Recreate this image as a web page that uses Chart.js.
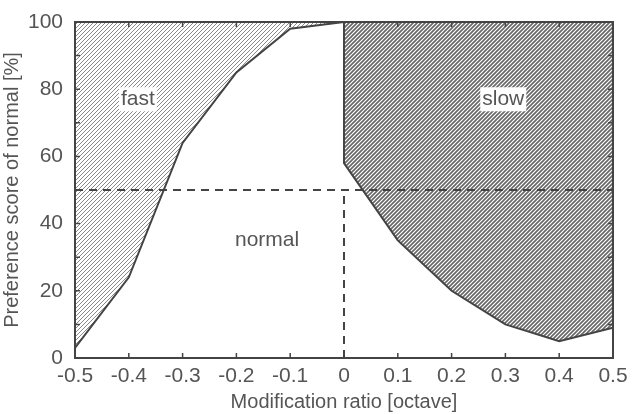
<!DOCTYPE html>
<html>
<head>
<meta charset="utf-8">
<script src="https://cdn.jsdelivr.net/npm/chart.js@4"></script>
<style>
  html, body { margin: 0; padding: 0; background: #fff; }
  #wrap { width: 632px; height: 414px; }
</style>
</head>
<body>
<div id="wrap"><canvas id="chart"></canvas></div>
<script>
// values
const fastX = [-0.5, -0.4, -0.3, -0.2, -0.1, 0];
const fastY = [3, 24, 64, 85, 98, 100];
const slowX = [0, 0, 0.1, 0.2, 0.3, 0.4, 0.5];
const slowY = [100, 58, 35, 20, 10, 5, 9];
const threshold = 50;
const regionLabels = ['fast', 'slow', 'normal'];
const labelX = [-0.383, 0.296, -0.143];
const labelY = [77, 77, 35];

const ink = '#444';
const textColor = '#555';
const font = 'Liberation Sans, Arial, Helvetica, sans-serif';

function hatch(spacing, width, color) {
  const c = document.createElement('canvas');
  c.width = spacing; c.height = spacing;
  const g = c.getContext('2d');
  g.fillStyle = '#fff';
  g.fillRect(0, 0, spacing, spacing);
  g.strokeStyle = color;
  g.lineWidth = width;
  g.beginPath();
  g.moveTo(-1, spacing + 1); g.lineTo(spacing + 1, -1);
  g.moveTo(-1, 1); g.lineTo(1, -1);
  g.moveTo(spacing - 1, spacing + 1); g.lineTo(spacing + 1, spacing - 1);
  g.stroke();
  return g.createPattern(c, 'repeat');
}

function pts(xs, ys) {
  return xs.map((x, i) => ({ x: x, y: ys[i] }));
}

const frame = {
  id: 'frame',
  afterDatasetsDraw(chart) {
    const ctx = chart.ctx;
    const a = chart.chartArea;
    const xs = chart.scales.x, ys = chart.scales.y;
    ctx.save();
    // region labels with white boxes
    ctx.font = '21px ' + font;
    ctx.textAlign = 'center';
    ctx.textBaseline = 'middle';
    regionLabels.forEach((t, i) => {
      const px = xs.getPixelForValue(labelX[i]);
      const py = ys.getPixelForValue(labelY[i]);
      const w = ctx.measureText(t).width;
      if (t !== 'normal') {
        ctx.fillStyle = '#fff';
        ctx.fillRect(px - w / 2 - 2, py - 12, w + 4, 24);
      }
      ctx.fillStyle = textColor;
      ctx.fillText(t, px, py);
    });
    // box and inward ticks
    ctx.strokeStyle = ink;
    ctx.lineWidth = 2;
    ctx.strokeRect(a.left, a.top, a.right - a.left, a.bottom - a.top);
    ctx.lineWidth = 1.5;
    ctx.beginPath();
    xs.ticks.forEach(t => {
      const p = xs.getPixelForValue(t.value);
      ctx.moveTo(p, a.bottom); ctx.lineTo(p, a.bottom - 5);
      ctx.moveTo(p, a.top); ctx.lineTo(p, a.top + 5);
    });
    ys.ticks.forEach(t => {
      const p = ys.getPixelForValue(t.value);
      ctx.moveTo(a.left, p); ctx.lineTo(a.left + 5, p);
      ctx.moveTo(a.right, p); ctx.lineTo(a.right - 5, p);
    });
    ctx.stroke();
    ctx.restore();
  }
};

new Chart(document.getElementById('chart'), {
  type: 'line',
  data: {
    datasets: [
      {
        data: pts(fastX, fastY), order: 1,
        borderColor: ink, borderWidth: 2,
        backgroundColor: hatch(4, 1, '#8a8a8a'),
        fill: 'end', pointRadius: 0, tension: 0
      },
      {
        data: pts(slowX, slowY), order: 1,
        borderColor: ink, borderWidth: 2,
        backgroundColor: hatch(4, 1.6, '#666'),
        fill: 'end', pointRadius: 0, tension: 0
      },
      {
        data: pts([-0.5, 0.5], [threshold, threshold]), order: 0,
        borderColor: ink, borderWidth: 2, borderDash: [8, 6],
        fill: false, pointRadius: 0
      },
      {
        data: pts([0, 0], [0, threshold]), order: 0,
        borderColor: ink, borderWidth: 2, borderDash: [8, 6],
        fill: false, pointRadius: 0
      }
    ]
  },
  options: {
    responsive: true,
    maintainAspectRatio: false,
    animation: false,
    layout: { padding: { top: 22, right: 19, left: 0, bottom: 0 } },
    plugins: { legend: { display: false }, tooltip: { enabled: false } },
    scales: {
      x: {
        type: 'linear', min: -0.5, max: 0.5,
        grid: { display: false },
        border: { display: false },
        ticks: {
          stepSize: 0.1, color: textColor, padding: -2,
          font: { family: font, size: 21 },
          maxRotation: 0,
          callback: v => String(Math.round(v * 10) / 10)
        },
        title: {
          display: true, text: 'Modification ratio [octave]', color: textColor,
          font: { family: font, size: 20 }, padding: { top: 4, bottom: 0 }
        },
        afterFit: s => { s.height = 56; }
      },
      y: {
        min: 0, max: 100,
        grid: { display: false },
        border: { display: false },
        ticks: {
          stepSize: 10, color: textColor, padding: 4,
          font: { family: font, size: 21 },
          callback: v => (v % 20 === 0 ? String(v) : '')
        },
        title: {
          display: true, text: 'Preference score of normal [%]', color: textColor,
          font: { family: font, size: 20 }, padding: { top: 0, bottom: 2 }
        },
        afterFit: s => { s.width = 75; }
      }
    }
  },
  plugins: [frame]
});
</script>
</body>
</html>
